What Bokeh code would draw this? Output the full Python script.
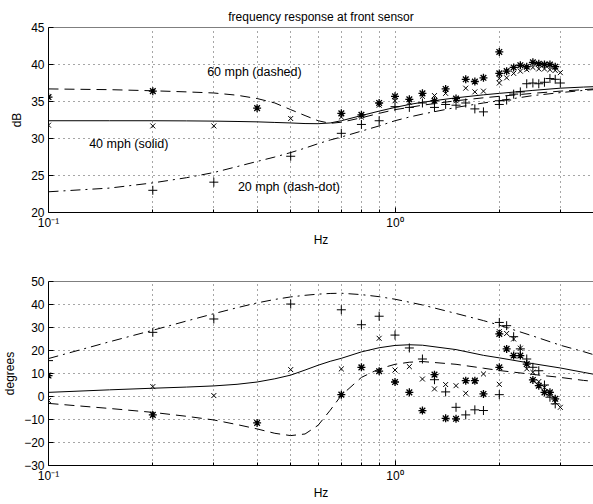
from bokeh.plotting import figure
from bokeh.layouts import column
from bokeh.models import FixedTicker, CustomJSTickFormatter, Span, Label
from bokeh.embed import file_html
from bokeh.resources import INLINE

nan = float("nan")

# ---- measured sweeps (Hz) ----
f_sweep1 = [0.1, 0.2, 0.3, 0.4, 0.5, 0.7, 0.8, 0.9, 1.0, 1.1, 1.2, 1.3, 1.4, 1.5, 1.6, 1.7, 1.8, 2.0]
f_sweep2 = [2.0, 2.1, 2.2, 2.3, 2.4, 2.5, 2.6, 2.7, 2.8, 2.9, 3.0]

# magnitude, dB  (+ = 20 mph, x = 40 mph, * = 60 mph)
mag20_s1 = [nan, 23.0, 24.1, nan, 27.6, 30.7, 31.9, 32.4, 34.3, 34.2, 34.8, 34.2, 34.6, 34.5, 34.8, 34.0, 33.6, 34.6]
mag40_s1 = [31.8, 31.7, 31.7, nan, 32.7, 32.9, 32.9, 34.5, 35.1, 34.9, 35.7, 35.8, 36.1, 35.1, 36.8, 36.3, 36.4, 37.5]
mag60_s1 = [35.6, 36.4, nan, 34.1, nan, 33.4, 33.2, 34.8, 35.7, 35.3, 36.1, 35.1, 36.7, 35.4, 38.0, 37.7, 38.2, 38.8]
mag20_s2 = [35.1, 35.2, 36.0, 36.3, 37.4, 37.5, 37.4, 37.6, 38.1, 38.0, 37.5]
mag40_s2 = [38.1, 38.2, 38.8, 39.1, 39.3, 39.6, 39.4, 39.4, 39.3, 39.2, 38.9]
mag60_s2 = [41.7, 39.1, 39.6, 39.9, 39.7, 40.3, 40.1, 40.0, 40.0, 39.7, nan]

# phase, degrees
ph20_s1 = [15.6, 27.9, 33.7, nan, 40.2, 37.7, 31.2, 34.9, 26.7, 21.1, 16.3, 7.3, 2.0, -4.7, -8.0, -5.8, -6.1, 0.8]
ph40_s1 = [-1.8, 4.3, 0.4, nan, 11.7, 12.0, 12.5, 25.3, 11.5, 13.0, 7.6, 3.3, 5.2, 4.7, 1.4, 6.5, 9.8, 5.3]
ph60_s1 = [9.1, -8.0, nan, -11.5, nan, 0.8, 12.7, 11.0, 6.3, 1.8, -6.1, 9.5, -9.5, -9.7, 6.9, 6.9, 1.1, 12.7]
ph20_s2 = [32.2, 30.8, 26.0, 20.7, 16.3, 12.7, 11.2, 5.0, -0.3, -3.2, nan]
ph40_s2 = [28.2, 27.4, 25.0, 21.0, 12.0, 10.5, 6.5, 4.0, 1.0, -2.5, -4.7]
ph60_s2 = [27.2, 20.7, 17.8, 17.8, 14.1, 7.2, 4.7, 1.8, 1.8, -1.0, nan]

# ---- model responses ----
f_model = [0.1, 0.15, 0.2, 0.25, 0.3, 0.35, 0.4, 0.45, 0.5, 0.55, 0.6, 0.65, 0.7,
           0.8, 0.9, 1.0, 1.1, 1.2, 1.5, 1.8, 2.0, 2.5, 3.0, 3.5, 3.74]
model_mag20 = [22.8, 23.3, 24.0, 24.7, 25.4, 26.2, 26.9, 27.5, 28.1, 28.7, 29.3, 29.8, 30.2,
               31.0, 31.7, 32.4, 32.9, 33.3, 34.2, 34.8, 35.1, 35.8, 36.2, 36.5, 36.6]
model_mag40 = [32.4, 32.4, 32.4, 32.38, 32.35, 32.3, 32.25, 32.17, 32.1, 32.02, 32.0, 32.1, 32.4,
               33.1, 33.7, 34.2, 34.6, 34.9, 35.5, 35.9, 36.1, 36.5, 36.8, 36.95, 37.0]
model_mag60 = [36.7, 36.6, 36.45, 36.3, 36.15, 35.85, 35.4, 34.8, 33.9, 33.1, 32.4, 32.05, 32.2,
               32.8, 33.4, 33.9, 34.2, 34.5, 35.1, 35.5, 35.7, 36.1, 36.4, 36.6, 36.7]
model_ph20 = [16.5, 23.8, 28.8, 32.8, 36.0, 38.6, 40.7, 42.2, 43.3, 44.0, 44.5, 44.8, 44.9,
              44.3, 43.4, 42.3, 41.0, 39.8, 36.1, 33.0, 31.0, 26.3, 22.3, 19.5, 18.2]
model_ph40 = [1.8, 2.9, 3.6, 4.1, 4.6, 5.3, 6.3, 7.7, 9.3, 11.5, 13.6, 15.3, 16.6,
              19.4, 21.2, 22.2, 22.5, 22.3, 20.4, 17.9, 16.8, 14.3, 12.4, 10.5, 9.7]
model_ph60 = [-3.0, -5.2, -6.9, -8.6, -10.2, -12.2, -14.1, -16.0, -17.0, -16.3, -12.5, -6.0, 0.5,
              8.3, 12.0, 14.0, 14.9, 15.2, 14.0, 12.3, 11.3, 9.6, 8.3, 7.0, 6.6]

mag_ticks = [20, 25, 30, 35, 40, 45]
ph_ticks = [-30, -20, -10, 0, 10, 20, 30, 40, 50]
x_major = [0.1, 1.0]
x_minor = [0.2, 0.3, 0.4, 0.5, 0.6, 0.7, 0.8, 0.9, 2.0, 3.0]

FONT = "Liberation Sans"
FS = "12px"


def panel(height, top, bottom, yticks, ylabel):
    p = figure(width=593, height=height, x_axis_type="log",
               x_range=(0.1, 3.74), y_range=(yticks[0], yticks[-1]),
               output_backend="svg", toolbar_location=None,
               min_border_left=46, min_border_right=0,
               min_border_top=top, min_border_bottom=bottom)
    p.outline_line_color = None
    p.background_fill_color = "white"
    p.border_fill_color = "white"

    p.xaxis.ticker = FixedTicker(ticks=x_major, minor_ticks=x_minor)
    p.xaxis.formatter = CustomJSTickFormatter(
        code="return tick < 0.5 ? '10\u207b\u00b9' : '10\u2070';")
    p.yaxis.ticker = FixedTicker(ticks=yticks)
    for ax in (p.xaxis[0], p.yaxis[0]):
        ax.axis_line_color = "black"
        ax.major_tick_in = 5
        ax.major_tick_out = 0
        ax.minor_tick_in = 3
        ax.minor_tick_out = 0
        ax.major_tick_line_color = "black"
        ax.minor_tick_line_color = "black"
        ax.major_label_text_font = FONT
        ax.major_label_text_font_size = FS
        ax.major_label_text_color = "black"
        ax.axis_label_text_font = FONT
        ax.axis_label_text_font_size = FS
        ax.axis_label_text_font_style = "normal"
        ax.axis_label_text_color = "black"
    p.xaxis.major_label_standoff = 3
    p.xaxis.axis_label = "Hz"
    p.xaxis.axis_label_standoff = 0
    p.yaxis.major_label_standoff = 4
    p.yaxis.axis_label = ylabel
    p.yaxis.axis_label_standoff = 4

    p.xgrid.ticker = FixedTicker(ticks=x_minor + [1.0])
    p.ygrid.ticker = FixedTicker(ticks=yticks[1:-1])
    for g in (p.xgrid[0], p.ygrid[0]):
        g.grid_line_color = "black"
        g.grid_line_alpha = 0.7
        g.grid_line_dash = "1 4"
        g.grid_line_width = 1

    p.add_layout(Span(location=yticks[-1], dimension="width",
                      line_color="black", line_width=1))
    return p


def draw(p, m20, m40, m60, s1, s2):
    p.line(f_model, m60, line_color="black", line_width=1, line_dash="10 6")
    p.line(f_model, m40, line_color="black", line_width=1)
    p.line(f_model, m20, line_color="black", line_width=1, line_dash="10 5 2 5")
    for f, (v20, v40, v60) in ((f_sweep1, s1), (f_sweep2, s2)):
        p.scatter(f, v20, marker="cross", size=9, line_color="black", line_width=1)
        p.scatter(f, v40, marker="x", size=7, line_color="black", line_width=1)
        p.scatter(f, v60, marker="asterisk", size=8, line_color="black", line_width=1.3)


top = panel(252, 27, 40, mag_ticks, "dB")
top.title.text = "frequency response at front sensor"
top.title.align = "center"
top.title.text_font = FONT
top.title.text_font_size = FS
top.title.text_font_style = "normal"
top.title.text_color = "black"
top.title.standoff = 8
draw(top, model_mag20, model_mag40, model_mag60,
     (mag20_s1, mag40_s1, mag60_s1), (mag20_s2, mag40_s2, mag60_s2))

for txt, x, y in (("60 mph (dashed)", 0.287, 39.0),
                  ("40 mph (solid)", 0.131, 29.3),
                  ("20 mph (dash-dot)", 0.352, 23.4)):
    top.add_layout(Label(x=x, y=y, text=txt, text_font=FONT, text_font_size="12.5px",
                         text_color="black", text_baseline="middle", text_align="left"))

bottom = panel(252, 29, 39, ph_ticks, "degrees")
draw(bottom, model_ph20, model_ph40, model_ph60,
     (ph20_s1, ph40_s1, ph60_s1), (ph20_s2, ph40_s2, ph60_s2))

layout = column(top, bottom, spacing=0)
open("out.html", "w").write(file_html(layout, INLINE))
